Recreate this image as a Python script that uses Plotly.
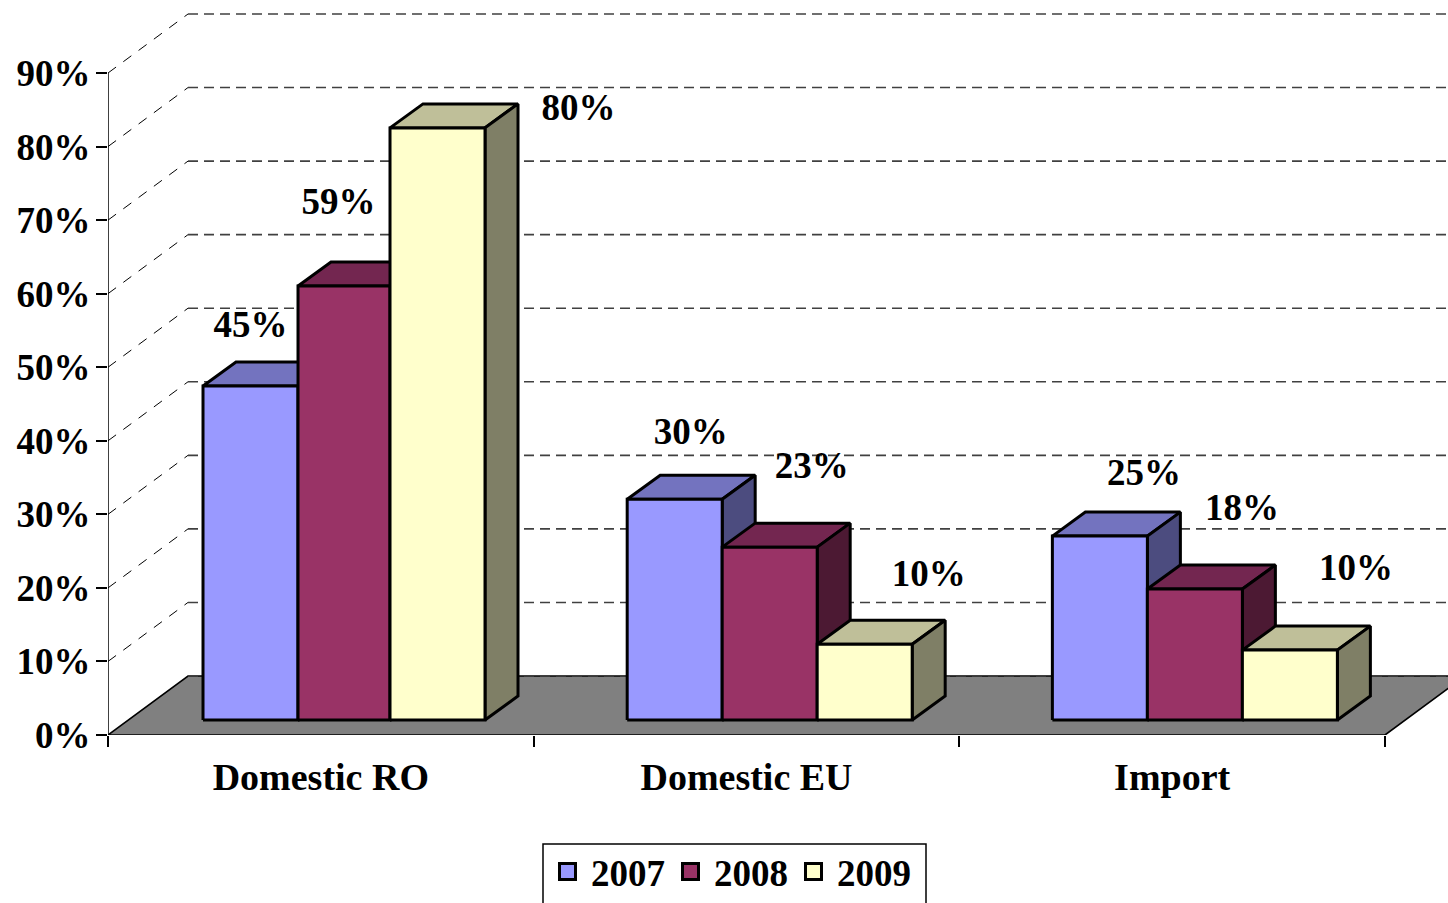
import plotly.graph_objects as go

# ---- data ----
categories = ["Domestic RO", "Domestic EU", "Import"]
years = ["2007", "2008", "2009"]
values_2007 = [45.4, 30.0, 25.0]
values_2008 = [59.0, 23.5, 17.8]
values_2009 = [80.5, 10.3, 9.5]
labels_2007 = ["45%", "30%", "25%"]
labels_2008 = ["59%", "23%", "18%"]
labels_2009 = ["80%", "10%", "10%"]
y_ticks = [0, 10, 20, 30, 40, 50, 60, 70, 80, 90]

# ---- styling ----
W, H = 1448, 903
PX_L, PX_R, PX_B, PX_T = 108, 1385, 735, 73
PPX = (PX_R - PX_L) / 3.0      # pixels per category
PPY = (PX_B - PX_T) / 90.0     # pixels per percent
FONT = "Liberation Serif"

front = ["#9999FF", "#993366", "#FFFFCC"]
top = ["#7373BF", "#732650", "#BFBF99"]
side = ["#4C4C7F", "#4C1933", "#7F7F66"]

WALL_DX, WALL_DY = 80 / PPX, 59 / PPY
BASE_Y = 15 / PPY
GROUP_START = [0.2232, 1.2197, 2.2186]
BAR_W = 95 / PPX
BAR_DX, BAR_DY = 33 / PPX, 24 / PPY
X_END = (W - PX_L) / PPX
Y_END = PX_B / PPY
# the reference's first group has its third bar sitting 3 px further left
EDGE_SHIFT = [[0, 0, 3 / PPX, 3 / PPX], [0, 0, 0, 0], [0, 0, 0, 0]]

# label offsets from bar-top centre, pixels
LABEL_DX = [[0, 16, 44], [-7, 42, 47], [138, 64, 66]]
LABEL_DY = [[58, 65, 60], [81, 78, 78], [17, 67, 79]]

series = [values_2007, values_2008, values_2009]
labels = [labels_2007, labels_2008, labels_2009]

fig = go.Figure()


def poly(xs, ys, fill, lw=3):
    fig.add_trace(go.Scatter(
        x=xs + xs[:1], y=ys + ys[:1], mode="lines", fill="toself", fillcolor=fill,
        line=dict(color="black", width=lw), showlegend=False, hoverinfo="skip",
        cliponaxis=False))


# floor
poly([0, 3, 3 + WALL_DX, WALL_DX], [0, 0, WALL_DY, WALL_DY], "#808080", lw=1.6)

# wall gridlines
gx_back, gy_back, gx_side, gy_side = [], [], [], []
for v in y_ticks:
    gx_back += [WALL_DX, X_END, None]
    gy_back += [v + WALL_DY, v + WALL_DY, None]
    if v > 0:
        gx_side += [0, WALL_DX, None]
        gy_side += [v, v + WALL_DY, None]
fig.add_trace(go.Scatter(x=gx_back, y=gy_back, mode="lines", showlegend=False, hoverinfo="skip",
                         line=dict(color="#404040", width=1.6, dash="10px,6px")))
fig.add_trace(go.Scatter(x=gx_side, y=gy_side, mode="lines", showlegend=False, hoverinfo="skip",
                         line=dict(color="black", width=1, dash="10px,9px")))
# y axis line, up to the top tick only
fig.add_trace(go.Scatter(x=[0, 0], y=[y_ticks[0], y_ticks[-1]], mode="lines", showlegend=False,
                         hoverinfo="skip", cliponaxis=False, line=dict(color="black", width=1.5)))

# 3-D bars, painted left to right
for c in range(len(categories)):
    for s in range(len(years)):
        x0 = GROUP_START[c] + s * BAR_W - EDGE_SHIFT[c][s]
        x1 = GROUP_START[c] + (s + 1) * BAR_W - EDGE_SHIFT[c][s + 1]
        v = series[s][c] + BASE_Y
        b = BASE_Y
        poly([x0, x1, x1 + BAR_DX, x0 + BAR_DX], [v, v, v + BAR_DY, v + BAR_DY], top[s])
        poly([x1, x1 + BAR_DX, x1 + BAR_DX, x1], [b, b + BAR_DY, v + BAR_DY, v], side[s])
        poly([x0, x1, x1, x0], [b, b, v, v], front[s])

# data labels
lx, ly, lt = [], [], []
for c in range(len(categories)):
    for s in range(len(years)):
        lx.append(GROUP_START[c] + (s + 0.5) * BAR_W + LABEL_DX[s][c] / PPX)
        ly.append(series[s][c] + BASE_Y + LABEL_DY[s][c] / PPY)
        lt.append(labels[s][c])
fig.add_trace(go.Scatter(x=lx, y=ly, text=lt, mode="text", textposition="middle center",
                         cliponaxis=False, showlegend=False, hoverinfo="skip",
                         textfont=dict(family=FONT, size=37, color="black", weight=700)))

# legend entries
for s, name in enumerate(years):
    fig.add_trace(go.Scatter(x=[None], y=[None], mode="markers", name=name,
                             marker=dict(symbol="square", size=16, color=front[s],
                                         line=dict(color="black", width=3))))

tick_font = dict(family=FONT, size=37, color="black", weight=700)
x_font = dict(family=FONT, size=38, color="black", weight=700)
fig.update_layout(
    width=W, height=H, autosize=False,
    margin=dict(l=0, r=0, t=0, b=0, autoexpand=False),
    paper_bgcolor="white", plot_bgcolor="rgba(0,0,0,0)",
    xaxis=dict(domain=[PX_L / W, 1], range=[0, X_END], showgrid=False, zeroline=False,
               tickvals=[0.5, 1.5, 2.5], ticktext=categories, ticks="", tickfont=x_font,
               ticklabelstandoff=16, showline=False,
               minor=dict(tickvals=[0, 1, 2, 3], ticks="outside", ticklen=11, tickwidth=1.5,
                          tickcolor="black")),
    yaxis=dict(domain=[(H - PX_B) / H, 1], range=[0, Y_END], showgrid=False, zeroline=False,
               tickvals=y_ticks, ticktext=[f"{t}%" for t in y_ticks], ticks="outside", ticklen=11,
               ticklabelstandoff=-2,
               tickwidth=1.5, tickcolor="black", tickfont=tick_font, showline=False),
    legend=dict(orientation="h", x=544 / W, xanchor="left", y=1 - 841 / H, yanchor="top",
                font=tick_font, bgcolor="rgba(0,0,0,0)", borderwidth=0,
                itemwidth=37, entrywidth=71, entrywidthmode="pixels", tracegroupgap=0),
    shapes=[dict(type="rect", xref="paper", yref="paper", x0=543 / W, x1=926 / W,
                 y0=-0.05, y1=1 - 844 / H, line=dict(color="black", width=1.5), layer="below")],
)

fig.write_html("out.html", config={"displayModeBar": False},
               post_script="document.body.style.margin='0';document.body.style.overflow='hidden';")
